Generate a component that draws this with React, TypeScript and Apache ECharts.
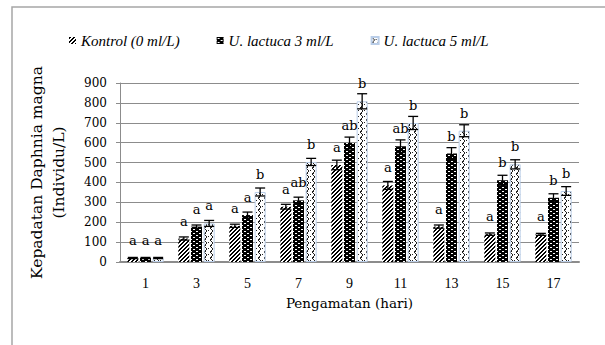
import React, { useEffect, useRef } from "react";
import * as echarts from "echarts";

const days = ["1", "3", "5", "7", "9", "11", "13", "15", "17"];
const seriesNames = ["Kontrol (0 ml/L)", "U. lactuca 3 ml/L", "U. lactuca 5 ml/L"];
const kontrol = [20, 118, 182, 278, 488, 385, 178, 140, 139];
const kontrolErr = [3, 8, 8, 12, 24, 20, 8, 6, 5];
const u3 = [20, 178, 236, 310, 598, 582, 545, 411, 323];
const u3Err = [3, 8, 15, 16, 30, 32, 30, 25, 20];
const u5 = [20, 194, 352, 503, 808, 699, 660, 491, 357];
const u5Err = [3, 15, 20, 18, 38, 33, 30, 23, 22];
const kontrolLetters = ["a", "a", "a", "a", "a", "a", "a", "a", "a"];
const u3Letters = ["a", "a", "a", "ab", "ab", "ab", "b", "b", "b"];
const u5Letters = ["a", "a", "b", "b", "b", "b", "b", "b", "b"];
const yTicks = { min: 0, max: 900, interval: 100 };

const SERIF_WIDE = "'DejaVu Serif', serif";
const SERIF_TIMES = "'Liberation Serif', serif";

function makeTile(w: number, h: number, bg: string, fg: string, on: (x: number, y: number) => boolean) {
  const c = document.createElement("canvas");
  c.width = w;
  c.height = h;
  const ctx = c.getContext("2d")!;
  ctx.fillStyle = bg;
  ctx.fillRect(0, 0, w, h);
  ctx.fillStyle = fg;
  for (let y = 0; y < h; y++) for (let x = 0; x < w; x++) if (on(x, y)) ctx.fillRect(x, y, 1, 1);
  return { image: c.toDataURL(), repeat: "repeat", imageWidth: w, imageHeight: h } as any;
}

export default function App() {
  const ref = useRef<HTMLDivElement>(null);
  useEffect(() => {
    if (!ref.current) return;
    const chart = echarts.init(ref.current, undefined, { renderer: "svg" });

    const pKontrol = makeTile(4, 4, "#ffffff", "#000000", (x, y) => (x + y) % 4 < 2);
    const pU3 = makeTile(6, 4, "#000000", "#ffffff", (x, y) =>
      (y === 1 && (x === 1 || x === 2)) || (y === 3 && (x === 4 || x === 5)));
    const pU5 = makeTile(6, 6, "#ffffff", "#222222", (x, y) =>
      (x === y && y < 3) || (x === 5 - y && y >= 3) || (y === 2 && x === 4) || (y === 5 && x === 1));

    const barW = 11;
    const gapRatio = 0.15;
    const step = barW * (1 + gapRatio);

    const values = [kontrol, u3, u5];
    const errs = [kontrolErr, u3Err, u5Err];
    const letters = [kontrolLetters, u3Letters, u5Letters];
    const patterns = [pKontrol, pU3, pU5];

    const labelFont = { fontFamily: SERIF_WIDE, fontSize: 13, color: "#000" };

    const barSeries = values.map((vals, k) => ({
      name: seriesNames[k],
      type: "bar",
      barWidth: barW,
      barGap: gapRatio * 100 + "%",
      data: vals,
      itemStyle: {
        color: patterns[k],
        borderColor: k === 2 ? "#b9cde8" : "transparent",
        borderWidth: k === 2 ? 1 : 0,
      },
      label: {
        show: true,
        position: "top",
        distance: 11,
        formatter: (p: any) => letters[k][p.dataIndex],
        ...labelFont,
      },
      z: 2,
    }));

    const errSeries = values.map((vals, k) => ({
      type: "custom",
      name: "err" + k,
      data: vals.map((v, i) => [i, v, errs[k][i]]),
      encode: { x: 0, y: 1 },
      z: 5,
      silent: true,
      renderItem: (params: any, api: any) => {
        const i = api.value(0);
        const v = api.value(1);
        const e = api.value(2);
        const c = api.coord([i, v]);
        const hi = api.coord([i, v + e]);
        const lo = api.coord([i, v - e]);
        const x = c[0] + (k - 1) * step;
        const hw = 5;
        const st = { stroke: "#000", lineWidth: 1.3 };
        return {
          type: "group",
          children: [
            { type: "line", shape: { x1: x, y1: hi[1], x2: x, y2: lo[1] }, style: st },
            { type: "line", shape: { x1: x - hw, y1: hi[1], x2: x + hw, y2: hi[1] }, style: st },
            { type: "line", shape: { x1: x - hw, y1: lo[1], x2: x + hw, y2: lo[1] }, style: st },
          ],
        };
      },
    }));

    chart.setOption({
      animation: false,
      backgroundColor: "#ffffff",
      grid: { left: 120, right: 26, top: 83, bottom: 83, containLabel: false },
      legend: {
        data: seriesNames,
        left: 69,
        top: 33,
        padding: 0,
        icon: "rect",
        itemWidth: 7,
        itemHeight: 7,
        itemGap: 37,
        textStyle: { fontFamily: SERIF_TIMES, fontStyle: "italic", fontSize: 15, color: "#000" },
      },
      xAxis: {
        type: "category",
        data: days,
        axisLine: { show: true, lineStyle: { color: "#8c8c8c", width: 2 } },
        axisTick: { show: false },
        axisLabel: { margin: 14, fontFamily: SERIF_TIMES, fontSize: 14, color: "#000" },
        name: "Pengamatan (hari)",
        nameLocation: "middle",
        nameGap: 34,
        nameTextStyle: { fontFamily: SERIF_WIDE, fontSize: 13.5, color: "#000" },
      },
      yAxis: {
        type: "value",
        min: yTicks.min,
        max: yTicks.max,
        interval: yTicks.interval,
        axisLine: { show: true, lineStyle: { color: "#8c8c8c", width: 1 } },
        axisTick: { show: true, length: 4, lineStyle: { color: "#8c8c8c" } },
        splitLine: { show: true, lineStyle: { color: "#8c8c8c", width: 1 } },
        axisLabel: { margin: 13, fontFamily: SERIF_WIDE, fontSize: 12, color: "#000" },
        name: "Kepadatan Daphnia magna\n(Individu/L)",
        nameLocation: "middle",
        nameRotate: 90,
        nameGap: 50,
        nameTextStyle: { fontFamily: SERIF_WIDE, fontSize: 15.5, lineHeight: 22, color: "#000" },
      },
      graphic: [
        {
          type: "polyline",
          shape: { points: [[12, 345], [12, 7], [605, 7]] },
          style: { stroke: "#a6a6a6", lineWidth: 1.5, fill: "none" },
          silent: true,
        },
      ],
      series: [...barSeries, ...errSeries],
    });
    return () => chart.dispose();
  }, []);
  return (
    <div
      ref={ref}
      style={{ position: "fixed", left: 0, top: 0, width: 605, height: 345, background: "#fff" }}
    />
  );
}
